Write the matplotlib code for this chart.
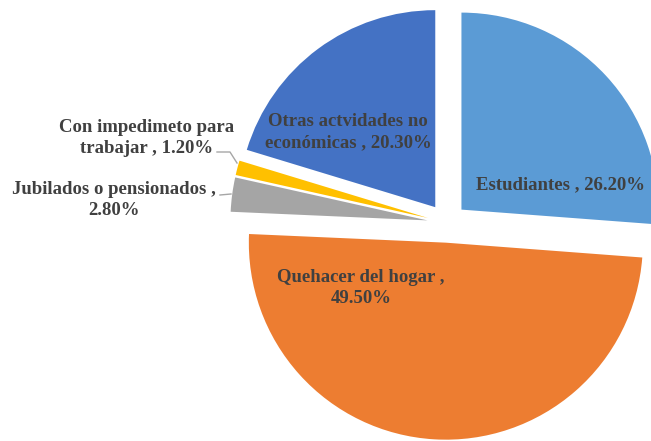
import matplotlib
matplotlib.use("Agg")
import matplotlib.pyplot as plt

categories = ["Estudiantes", "Quehacer del hogar", "Jubilados o pensionados",
              "Con impedimeto para trabajar", "Otras actvidades no económicas"]
values = [26.2, 49.5, 2.8, 1.2, 20.3]
label_texts = ["Estudiantes , 26.20%",
               "Quehacer del hogar ,\n49.50%",
               "Jubilados o pensionados ,\n2.80%",
               "Con impedimeto para\ntrabajar , 1.20%",
               "Otras actvidades no\neconómicas , 20.30%"]
colors = ["#5B9BD5", "#ED7D31", "#A5A5A5", "#FFC000", "#4472C4"]

W, H = 651, 441
R = 197
fig = plt.figure(figsize=(W / 100, H / 100), dpi=100)
ax = fig.add_axes([0, 0, 1, 1])
ax.pie(values, colors=colors, startangle=90, counterclock=False,
       explode=[0.1 * R] * len(values), radius=R, center=(447, H - 223),
       wedgeprops=dict(linewidth=0))
ax.set_xlim(0, W)
ax.set_ylim(0, H)
ax.set_aspect("auto")
ax.axis("off")

font = dict(family="Liberation Serif", weight="bold", size=13.5, color="#404040",
            ha="center", va="center", linespacing=1.3)
# label anchor positions (image pixel coords)
label_pos = [(560, 185), (361, 288), (114, 200), (147, 138), (348, 132)]
for txt, (x, y) in zip(label_texts, label_pos):
    ax.text(x, H - y, txt, **font)

# leader lines
ax.plot([217, 230, 237], [H - 152, H - 152, H - 163], color="#A6A6A6", lw=1)
ax.plot([220, 231], [H - 195, H - 194], color="#A6A6A6", lw=1)

fig.savefig("out.png", dpi=100)
